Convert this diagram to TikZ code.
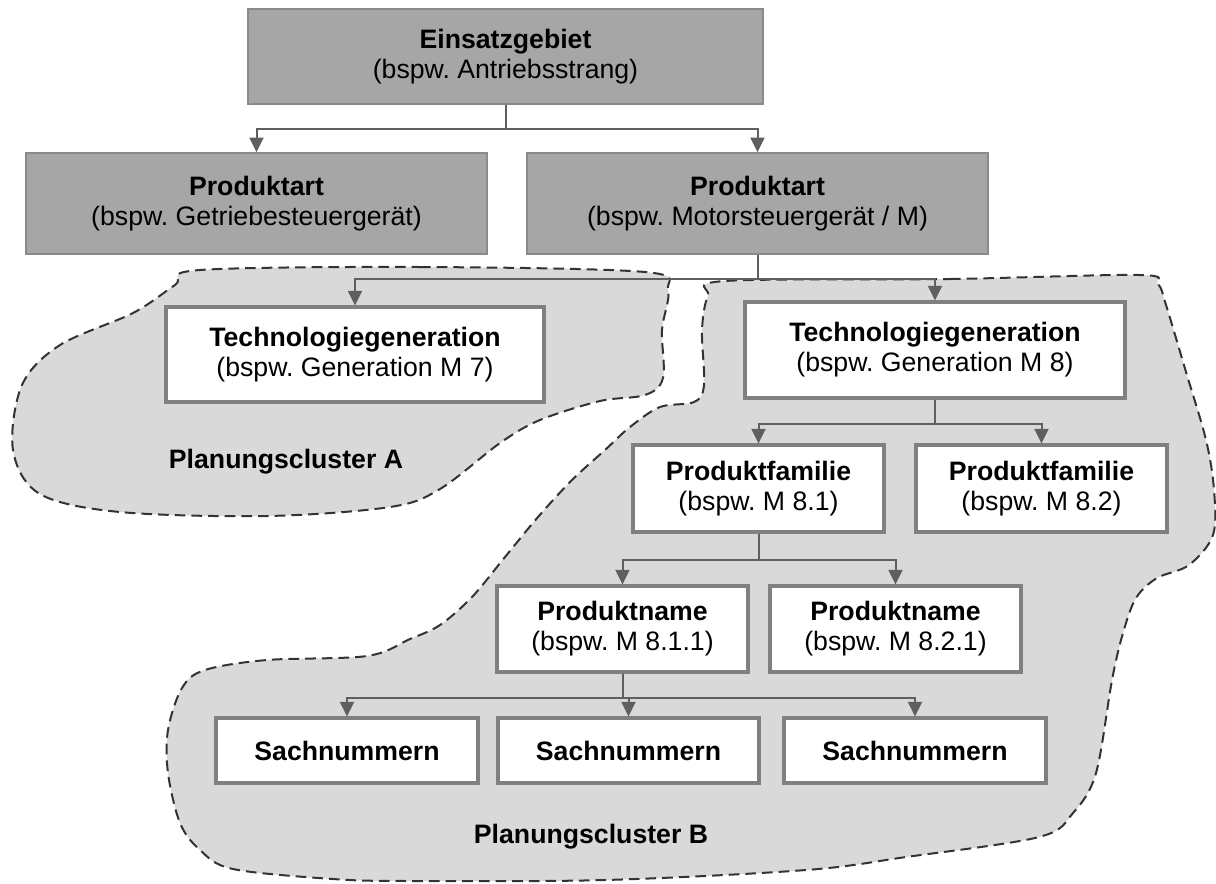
\documentclass[tikz,border=0pt]{standalone}
\usepackage{fontspec}
\setmainfont{Liberation Sans}
\usetikzlibrary{arrows.meta}
\definecolor{boxgray}{HTML}{A6A6A6}
\definecolor{gborder}{HTML}{8A8A8A}
\definecolor{wborder}{HTML}{808080}
\definecolor{clusterfill}{HTML}{D9D9D9}
\definecolor{clusterline}{HTML}{333333}
\definecolor{connline}{HTML}{5F5F5F}
\tikzset{
  box/.style={draw, rectangle, inner sep=0pt, align=center,
    font=\fontsize{20}{22.5}\selectfont\frenchspacing},
  gbox/.style={box, fill=boxgray, draw=gborder, line width=1.1pt},
  wbox/.style={box, fill=white, draw=wborder, line width=2.3pt},
  cluster/.style={fill=clusterfill, draw=clusterline, line width=1.5pt,
    dash pattern=on 8pt off 4.5pt},
  clusterlabel/.style={font=\fontsize{20}{22.5}\selectfont\bfseries},
  conn/.style={draw=connline, line width=1.5pt,
    -{Triangle[length=11pt,width=10.5pt]}},
}
\begin{document}
\frenchspacing
\begin{tikzpicture}[x=0.75pt,y=-0.75pt]
\useasboundingbox (0,0) rectangle (1216,883);

% planning cluster A
\draw[cluster] plot[smooth cycle, tension=0.55] coordinates {
  (200,270) (420,267) (645,272) (668,290) (662,330) (663,378) (645,395)
  (600,401) (540,420) (500,443) (440,489) (390,507) (267,516) (120,512)
  (40,494) (13,450) (22,385) (60,345) (133,313) (175,285)};

% planning cluster B
\draw[cluster] plot[smooth cycle, tension=0.55] coordinates {
  (725,281) (950,279) (1139,275) (1158,284) (1166,305) (1186,372)
  (1206,440) (1214,490) (1213,535) (1189,565) (1157,578) (1136,598)
  (1123,633) (1112,680) (1096,773) (1073,813) (1039,837) (906,857)
  (806,870) (605,880) (410,881) (333,879) (233,869) (200,850) (180,823)
  (168,773) (168,730) (182,688) (205,670) (267,660) (367,656) (410,639)
  (440,625) (472,597) (505,557) (538,517) (572,480) (605,450) (630,427)
  (660,407) (694,402) (704,385) (702,330) (708,296)};

\node[clusterlabel] (labA) at (286,462) {Planungscluster A};
\node[clusterlabel] (labB) at (591,837) {Planungscluster B};

% hierarchy boxes
\node[gbox, minimum width=386.25pt, minimum height=71.25pt] (eins) at (505.5,56.5)
  {\textbf{Einsatzgebiet}\\(bspw. Antriebsstrang)};
\node[gbox, minimum width=345.75pt, minimum height=75.75pt] (pa1) at (256.5,203.5)
  {\textbf{Produktart}\\(bspw. Getriebesteuergerät)};
\node[gbox, minimum width=345.75pt, minimum height=75.75pt] (pa2) at (757.5,203.5)
  {\textbf{Produktart}\\(bspw. Motorsteuergerät / M)};
\node[wbox, minimum width=283.5pt, minimum height=71.25pt] (t7) at (355,354.5)
  {\textbf{Technologiegeneration}\\(bspw. Generation M 7)};
\node[wbox, minimum width=285pt, minimum height=72pt] (t8) at (935,350)
  {\textbf{Technologiegeneration}\\(bspw. Generation M 8)};
\node[wbox, minimum width=188.25pt, minimum height=65.25pt] (pf1) at (758.5,488.5)
  {\textbf{Produktfamilie}\\(bspw. M 8.1)};
\node[wbox, minimum width=188.25pt, minimum height=65.25pt] (pf2) at (1041.5,488.5)
  {\textbf{Produktfamilie}\\(bspw. M 8.2)};
\node[wbox, minimum width=188.25pt, minimum height=64.5pt] (pn1) at (622.5,629)
  {\textbf{Produktname}\\(bspw. M 8.1.1)};
\node[wbox, minimum width=188.25pt, minimum height=64.5pt] (pn2) at (895.5,629)
  {\textbf{Produktname}\\(bspw. M 8.2.1)};
\node[wbox, minimum width=196.5pt, minimum height=48.75pt] (s1) at (347,750.5)
  {\textbf{Sachnummern}};
\node[wbox, minimum width=195.75pt, minimum height=48.75pt] (s2) at (628.5,750.5)
  {\textbf{Sachnummern}};
\node[wbox, minimum width=196.5pt, minimum height=48.75pt] (s3) at (915,750.5)
  {\textbf{Sachnummern}};

% connectors
\draw[conn] (eins.south) -- ++(0,24) -| (pa1.north);
\draw[conn] (eins.south) -- ++(0,24) -| (pa2.north);
\draw[conn] (pa2.south) -- ++(0,24) -| (t7.north);
\draw[conn] (pa2.south) -- ++(0,24) -| (t8.north);
\draw[conn] (t8.south) -- ++(0,24) -| (pf1.north);
\draw[conn] (t8.south) -- ++(0,24) -| (pf2.north);
\draw[conn] (pf1.south) -- ++(0,26) -| (pn1.north);
\draw[conn] (pf1.south) -- ++(0,26) -| (pn2.north);
\draw[conn] (pn1.south) -- ++(0,24) -| (s1.north);
\draw[conn] (pn1.south) -- ++(0,24) -| (s2.north);
\draw[conn] (pn1.south) -- ++(0,24) -| (s3.north);
\end{tikzpicture}
\end{document}
